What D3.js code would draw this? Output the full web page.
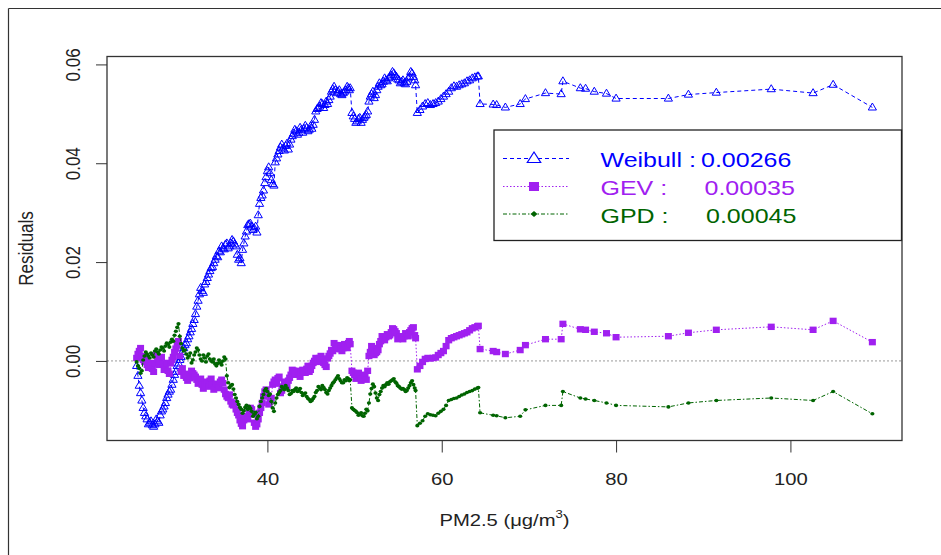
<!DOCTYPE html>
<html>
<head>
<meta charset="utf-8">
<script src="https://cdn.jsdelivr.net/npm/d3@7/dist/d3.min.js"></script>
<style>
  body { margin: 0; background: #fff; }
  svg { display: block; font-family: "Liberation Sans", Arial, sans-serif; }
</style>
</head>
<body>
<svg id="chart" width="941" height="555"></svg>
<script>
// PM2.5 values (shared by the three residual series)
const pm25 = [
  25.0, 25.3, 25.6, 25.9, 26.2, 26.5, 26.8, 27.1, 27.4, 27.7,
  28.0, 28.3, 28.6, 28.9, 29.2, 29.5, 29.8, 30.1, 30.4, 30.7,
  31.0, 31.3, 31.6, 31.9, 32.2, 32.5, 32.8, 33.1, 33.4, 33.7,
  34.0, 34.3, 34.6, 34.9, 35.2, 35.5, 35.8, 36.1, 36.4, 36.7,
  37.0, 37.3, 37.6, 37.9, 38.2, 38.5, 38.8, 39.1, 39.4, 39.7,
  40.0, 40.3, 40.6, 40.9, 41.2, 41.5, 41.8, 42.1, 42.4, 42.7,
  43.0, 43.3, 43.6, 43.9, 44.2, 44.5, 44.8, 45.1, 45.4, 45.7,
  46.0, 46.3, 46.6, 46.9, 47.2, 47.5, 47.8, 48.1, 48.4, 48.7,
  49.0, 49.3, 49.5, 49.7, 50.0, 50.3, 50.6, 50.9, 51.2, 51.5,
  51.8, 52.1, 52.4, 52.7, 53.0, 53.3, 53.6, 53.9, 54.2, 54.5,
  54.8, 55.1, 55.4, 55.7, 56.0, 56.3, 56.6, 56.9, 57.0, 57.2,
  57.5, 57.8, 58.1, 58.4, 58.7, 59.0, 59.3, 59.6, 59.9, 60.2,
  60.5, 60.8, 61.1, 61.4, 61.7, 62.0, 62.3, 62.6, 62.9, 63.2,
  63.5, 63.8, 64.1, 64.2, 64.4,
  65.9, 66.3, 67.3, 69.0, 69.6, 71.9, 73.7, 73.9, 75.9, 76.5,
  77.5, 78.9, 80.0, 86.0, 88.3, 91.5, 97.8, 102.6, 104.9, 109.4
];

const weibull = [
  -0.001, -0.005, -0.008, -0.0105, -0.0118, -0.0125, -0.013, -0.0128, -0.0122, -0.011,
  -0.0098, -0.0085, -0.0068, -0.0058, -0.0038, -0.0022, -0.0005, 0.0008, 0.0026, 0.0036,
  0.005, 0.0065, 0.0083, 0.011, 0.0135, 0.0142, 0.0155, 0.0168, 0.0182, 0.019,
  0.0205, 0.021, 0.022, 0.0228, 0.0236, 0.0228, 0.0238, 0.0242, 0.0232, 0.0205,
  0.0198, 0.0238, 0.0262, 0.0277, 0.0272, 0.0268, 0.026, 0.0318, 0.0335, 0.036,
  0.0384, 0.038, 0.0358, 0.0402, 0.0418, 0.0432, 0.043, 0.0435, 0.0428, 0.0448,
  0.046, 0.0465, 0.0462, 0.0468, 0.047, 0.0472, 0.0468, 0.047, 0.0488, 0.051,
  0.0515, 0.052, 0.0518, 0.052, 0.0535, 0.055, 0.0548, 0.0545, 0.054, 0.0542,
  0.0548, 0.0552, 0.0552, 0.0502, 0.049, 0.0485, 0.0492, 0.0488, 0.0495, 0.0505,
  0.0535, 0.0545, 0.0538, 0.0555, 0.0558, 0.0565, 0.0568, 0.0572, 0.0578, 0.0582,
  0.0575, 0.0568, 0.0565, 0.0562, 0.0565, 0.0575, 0.0582, 0.0568, 0.0558, 0.0502,
  0.0508, 0.0515, 0.052, 0.0522, 0.0518, 0.052, 0.0522, 0.0525, 0.053, 0.0535,
  0.054, 0.0545, 0.0552, 0.0556, 0.0555, 0.0558, 0.056, 0.0562, 0.0566, 0.0568,
  0.0572, 0.0574, 0.0576, 0.0576, 0.052,
  0.0519, 0.0518, 0.0513, 0.052, 0.053, 0.0542, 0.054, 0.0566, 0.0552, 0.0551,
  0.0545, 0.0541, 0.0531, 0.0531, 0.0539, 0.0543, 0.055, 0.0542, 0.0559, 0.0513
];

const gev = [
  0.0006, 0.002, 0.001, -0.0002, -0.0008, -0.0012, -0.0016, -0.0005, 0.0004, 0.0,
  -0.0006, -0.0012, -0.002, -0.0005, 0.0008, 0.0025, 0.004, -0.0022, -0.003, -0.0034,
  -0.0028, -0.002, -0.0028, -0.0038, -0.0042, -0.0048, -0.005, -0.0045, -0.004, -0.0048,
  -0.0054, -0.0048, -0.0042, -0.0045, -0.0067, -0.0075, -0.0082, -0.009, -0.0098, -0.011,
  -0.0127, -0.012, -0.0112, -0.0102, -0.0098, -0.0125, -0.0128, -0.0105, -0.0085, -0.0062,
  -0.007, -0.0082, -0.0048, -0.0038, -0.0035, -0.0065, -0.0052, -0.0045, -0.004, -0.0028,
  -0.002, -0.0025, -0.0028, -0.0024, -0.002, -0.0016, -0.0022, -0.001, 0.0, 0.0004,
  0.0006, 0.0002, -0.0008, 0.0005, 0.0015, 0.002, 0.0032, 0.0028, 0.0024, 0.0026,
  0.003, 0.0036, 0.0034, -0.002, -0.0028, -0.003, -0.0034, -0.0036, -0.0028, -0.002,
  0.0018, 0.0026, 0.0016, 0.0022, 0.004, 0.0046, 0.0048, 0.005, 0.0058, 0.0064,
  0.0056, 0.0048, 0.0046, 0.005, 0.0054, 0.0058, 0.0066, 0.0052, 0.0046, -0.0017,
  -0.001, -0.0002, 0.0004, 0.0006, 0.0005, 0.0006, 0.0007, 0.0012, 0.0016, 0.002,
  0.003, 0.0042, 0.0046, 0.0048, 0.005, 0.0052, 0.0054, 0.0056, 0.0058, 0.0062,
  0.0066, 0.0068, 0.007, 0.0071, 0.0024,
  0.002, 0.0018, 0.0014, 0.0022, 0.0032, 0.0044, 0.0044, 0.0075, 0.0064, 0.0063,
  0.0059, 0.0056, 0.0048, 0.005, 0.0057, 0.0063, 0.0069, 0.0063, 0.0081, 0.0038
];

const gpd = [
  -0.0002, -0.0015, -0.002, 0.001, 0.0014, 0.0006, 0.0012, 0.002, 0.0018, 0.0022,
  0.0026, 0.003, 0.0034, 0.0038, 0.004, 0.006, 0.0075, 0.0035, 0.002, 0.0014,
  0.001, -0.0004, 0.0012, 0.0026, 0.0012, 0.0, 0.0006, 0.001, 0.0004, -0.0002,
  -0.0006, -0.0005, -0.0004, 0.0, 0.0004, -0.0044, -0.005, -0.0057, -0.0075, -0.0088,
  -0.0098, -0.0101, -0.009, -0.0092, -0.0102, -0.0108, -0.0117, -0.0092, -0.0075, -0.006,
  -0.0062, -0.0067, -0.0095, -0.0085, -0.0068, -0.006, -0.0055, -0.005, -0.006, -0.0066,
  -0.0062, -0.0055, -0.006, -0.0064, -0.0067, -0.0072, -0.0078, -0.008, -0.0072, -0.006,
  -0.0055, -0.005, -0.0058, -0.0067, -0.0055, -0.0045, -0.0038, -0.003, -0.004, -0.0044,
  -0.004, -0.0036, -0.0038, -0.0095, -0.01, -0.0105, -0.0108, -0.0111, -0.0106, -0.0101,
  -0.0067, -0.0047, -0.0065, -0.008, -0.0062, -0.005, -0.0048, -0.0047, -0.004, -0.0036,
  -0.0045, -0.0052, -0.0057, -0.0058, -0.006, -0.005, -0.004, -0.0055, -0.006, -0.0131,
  -0.0126, -0.0121, -0.0112, -0.0107, -0.0109, -0.011, -0.0111, -0.0106, -0.0102, -0.0098,
  -0.009, -0.008, -0.0078, -0.0076, -0.0075, -0.0072, -0.0069, -0.0067, -0.0064, -0.0062,
  -0.006, -0.0057, -0.0055, -0.0054, -0.0105,
  -0.011, -0.0111, -0.0115, -0.0112, -0.0099, -0.009, -0.009, -0.0062, -0.0075, -0.0077,
  -0.008, -0.0085, -0.009, -0.0093, -0.0085, -0.008, -0.0075, -0.008, -0.0062, -0.0107
];

const pm25Dense = [
  25.15, 25.45, 25.75, 26.05, 26.35, 26.65, 26.95, 27.25, 27.55, 27.85,
  28.15, 28.45, 28.75, 29.05, 29.35, 29.65, 29.95, 30.25, 30.55, 30.85,
  31.15, 31.45, 31.75, 32.05, 32.35, 32.65, 32.95, 33.25, 33.55, 33.85,
  34.15, 34.45, 34.75, 35.05, 35.35, 35.65, 35.95, 36.25, 36.55, 36.85,
  37.15, 37.45, 37.75, 38.05, 38.35, 38.65, 38.95, 39.25, 39.55, 39.85,
  40.15, 40.45, 40.75, 41.05, 41.35, 41.65, 41.95, 42.25, 42.55, 42.85,
  43.15, 43.45, 43.75, 44.05, 44.35, 44.65, 44.95, 45.25, 45.55, 45.85,
  46.15, 46.45, 46.75, 47.05, 47.35, 47.65, 47.95, 48.25, 48.55, 48.85,
  49.15, 49.4, 49.85, 50.15, 50.45, 50.75, 51.05, 51.35, 51.65, 51.95,
  52.25, 52.55, 52.85, 53.15, 53.45, 53.75, 54.05, 54.35, 54.65, 54.95,
  55.25, 55.55, 55.85, 56.15, 56.45, 56.75
];

const weibullDense = [
  -0.003, -0.0065, -0.0095, -0.0112, -0.0128, -0.0122, -0.0133, -0.0118, -0.0125, -0.0102,
  -0.0092, -0.0075, -0.0062, -0.0048, -0.0028, -0.001, 0.0002, 0.0018, 0.0032, 0.0044,
  0.0058, 0.0075, 0.0095, 0.0122, 0.0148, 0.0138, 0.016, 0.0175, 0.0188, 0.0198,
  0.0212, 0.0222, 0.0232, 0.0226, 0.0238, 0.0232, 0.0245, 0.0236, 0.0215, 0.0208,
  0.0225, 0.0252, 0.0275, 0.0278, 0.0265, 0.0272, 0.0295, 0.033, 0.0345, 0.0372,
  0.0392, 0.0366, 0.0355, 0.041, 0.0425, 0.0438, 0.0426, 0.044, 0.0438, 0.0455,
  0.0468, 0.0458, 0.0472, 0.0462, 0.0476, 0.0465, 0.0475, 0.0478, 0.0505, 0.0512,
  0.0522, 0.0512, 0.0525, 0.0528, 0.0545, 0.0555, 0.0542, 0.0548, 0.0538, 0.0545,
  0.0555, 0.0548, 0.0495, 0.0482, 0.049, 0.0482, 0.0492, 0.0498, 0.0525, 0.054,
  0.0532, 0.0548, 0.0562, 0.056, 0.0572, 0.0566, 0.0574, 0.0585, 0.0578, 0.057,
  0.0562, 0.0568, 0.056, 0.0572, 0.0585, 0.0575
];

const gevDense = [
  0.0014, 0.0026, 0.0002, 0.0008, -0.0014, -0.0004, -0.0022, 0.0012, -0.0008, 0.0008,
  -0.0018, -0.0004, -0.0026, 0.0002, 0.0018, 0.0032, 0.001, -0.0015, -0.0026, -0.004,
  -0.0035, -0.0025, -0.0032, -0.0046, -0.0036, -0.0056, -0.0042, -0.0052, -0.0036, -0.0058,
  -0.0046, -0.0055, -0.0038, -0.0058, -0.0072, -0.0068, -0.0088, -0.0085, -0.0105, -0.012,
  -0.0132, -0.0112, -0.0118, -0.0095, -0.0108, -0.0133, -0.0118, -0.0095, -0.0072, -0.0058,
  -0.0088, -0.0075, -0.0042, -0.0046, -0.0032, -0.006, -0.0042, -0.0052, -0.0034, -0.0018,
  -0.0028, -0.002, -0.0032, -0.0018, -0.0024, -0.001, -0.0018, -0.0004, 0.0006, -0.0002,
  0.001, -0.0004, -0.0012, 0.001, 0.0022, 0.0036, 0.0024, 0.0032, 0.002, 0.0034,
  0.0026, 0.004, -0.0024, -0.0036, -0.0024, -0.004, -0.003, -0.0038, 0.001, 0.003,
  0.0012, 0.0018, 0.0034, 0.005, 0.0042, 0.0054, 0.0052, 0.0066, 0.006, 0.0044,
  0.005, 0.0044, 0.0056, 0.005, 0.0062, 0.0068
];

const gpdDense = [
  -0.001, -0.0025, 0.0002, 0.0018, 0.001, 0.0016, 0.0008, 0.0024, 0.0014, 0.0028,
  0.002, 0.0036, 0.0028, 0.0044, 0.0052, 0.0068, 0.005, 0.0026, 0.0022, 0.0006,
  0.0016, 0.0002, 0.0018, 0.0022, 0.0004, 0.0012, -0.0002, 0.0014, 0.0, 0.0004,
  -0.001, 0.0002, -0.0008, 0.0008, -0.003, -0.0054, -0.0048, -0.0068, -0.0082, -0.0094,
  -0.0106, -0.0094, -0.0098, -0.0096, -0.0112, -0.0104, -0.0112, -0.0082, -0.0068, -0.0056,
  -0.007, -0.0082, -0.0102, -0.0075, -0.0064, -0.0052, -0.0058, -0.0055, -0.0068, -0.006,
  -0.0058, -0.0062, -0.0056, -0.007, -0.0065, -0.0076, -0.0082, -0.0076, -0.0064, -0.0052,
  -0.0058, -0.0054, -0.0064, -0.006, -0.005, -0.0042, -0.0034, -0.0036, -0.0044, -0.0038,
  -0.0034, -0.004, -0.0098, -0.0102, -0.011, -0.0105, -0.0112, -0.0098, -0.0085, -0.0056,
  -0.0052, -0.0075, -0.0068, -0.0055, -0.0052, -0.0044, -0.0042, -0.0038, -0.0042, -0.005,
  -0.0055, -0.0056, -0.0062, -0.0055, -0.0044, -0.0048
];

const xDomain = [21.6, 112.8];
const yDomain = [-0.0161, 0.0616];
const xTicks = [40, 60, 80, 100];
const yTicks = [0.00, 0.02, 0.04, 0.06];
const legendNames = ["Weibull :", "GEV :", "GPD :"];
const legendValues = ["0.00266", "0.00035", "0.00045"];

// the picture is a bit stretched sideways, so text is too
const sx = 1.19;
const box = { left: 107, right: 902, top: 56.5, bottom: 440.5 };

const svg = d3.select("#chart");

const x = d3.scaleLinear().domain(xDomain).range([box.left, box.right]);
const y = d3.scaleLinear().domain(yDomain).range([box.bottom, box.top]);

// frame of the screenshot
svg.append("line").attr("x1", 8.5).attr("x2", 941).attr("y1", 8.5).attr("y2", 8.5)
  .attr("stroke", "#333").attr("stroke-width", 1.2);
svg.append("line").attr("x1", 8.5).attr("x2", 8.5).attr("y1", 8.5).attr("y2", 555)
  .attr("stroke", "#333").attr("stroke-width", 1.2);

// zero reference line
svg.append("line")
  .attr("x1", box.left).attr("x2", box.right)
  .attr("y1", y(0)).attr("y2", y(0))
  .attr("stroke", "#999").attr("stroke-dasharray", "2,2");

const series = [
  { name: "weibull", values: weibull, dense: weibullDense, color: "#0000FF", dash: "4,3", marker: "triangle" },
  { name: "gev", values: gev, dense: gevDense, color: "#A020F0", dash: "1.5,2", marker: "square" },
  { name: "gpd", values: gpd, dense: gpdDense, color: "#006400", dash: "4,2,1.5,2", marker: "dot" }
];

function drawMarker(sel, type, color) {
  if (type === "triangle") {
    sel.append("path")
      .attr("d", "M0,-4.4L4.1,2.6L-4.1,2.6Z")
      .attr("fill", "none").attr("stroke", color).attr("stroke-width", 1);
  } else if (type === "square") {
    sel.append("rect")
      .attr("x", -3.5).attr("y", -3.2).attr("width", 7).attr("height", 6.4)
      .attr("fill", color);
  } else {
    sel.append("ellipse").attr("rx", 2.1).attr("ry", 1.8).attr("fill", color);
  }
}

series.forEach(s => {
  const pts = pm25.map((v, i) => [v, s.values[i]])
    .concat(pm25Dense.map((v, i) => [v, s.dense[i]]))
    .sort((a, b) => a[0] - b[0]);
  const g = svg.append("g").attr("class", s.name);

  g.append("path")
    .datum(pts)
    .attr("fill", "none")
    .attr("stroke", s.color)
    .attr("stroke-width", 1)
    .attr("stroke-dasharray", s.dash)
    .attr("d", d3.line().x(d => x(d[0])).y(d => y(d[1])));

  g.selectAll(".pt")
    .data(pts)
    .enter()
    .append("g")
    .attr("class", "pt")
    .attr("transform", d => `translate(${x(d[0])},${y(d[1])})`)
    .each(function () { drawMarker(d3.select(this), s.marker, s.color); });
});

// plot box
svg.append("rect")
  .attr("x", box.left).attr("y", box.top)
  .attr("width", box.right - box.left).attr("height", box.bottom - box.top)
  .attr("fill", "none").attr("stroke", "#333").attr("stroke-width", 1.3);

// axes
const gx = svg.append("g")
  .attr("transform", `translate(0,${box.bottom})`)
  .call(d3.axisBottom(x).tickValues(xTicks).tickSize(12).tickFormat(d3.format("d")));
gx.select(".domain").remove();
gx.selectAll("line").attr("stroke", "#333");
gx.selectAll("text")
  .attr("y", null).attr("dy", null)
  .attr("transform", `translate(0,44.5) scale(${sx},1)`)
  .attr("font-size", 17).attr("font-family", "Liberation Sans, Arial, sans-serif")
  .attr("fill", "#222");

const gy = svg.append("g")
  .attr("transform", `translate(${box.left},0)`)
  .call(d3.axisLeft(y).tickValues(yTicks).tickSize(11).tickFormat(d3.format(".2f")));
gy.select(".domain").remove();
gy.selectAll("line").attr("stroke", "#333");
gy.selectAll("text")
  .attr("x", null).attr("dy", null)
  .attr("text-anchor", "middle")
  .attr("transform", `translate(-27,0) scale(${sx},1) rotate(-90)`)
  .attr("font-size", 17).attr("font-family", "Liberation Sans, Arial, sans-serif")
  .attr("fill", "#222");

// axis titles
const xLab = svg.append("text")
  .attr("transform", `translate(${(box.left + box.right) / 2},526) scale(${sx},1)`)
  .attr("text-anchor", "middle")
  .attr("font-size", 17)
  .attr("fill", "#222");
xLab.append("tspan").text("PM2.5 (μg/m");
xLab.append("tspan").attr("dy", -8).attr("font-size", 11).text("3");
xLab.append("tspan").attr("dy", 8).text(")");

svg.append("text")
  .attr("transform", `translate(33,${(box.top + box.bottom) / 2}) scale(${sx},1) rotate(-90)`)
  .attr("text-anchor", "middle")
  .attr("font-size", 17)
  .attr("fill", "#222")
  .text("Residuals");

// legend
const legend = svg.append("g");
legend.append("rect")
  .attr("x", 494).attr("y", 130).attr("width", 407.5).attr("height", 110.5)
  .attr("fill", "#fff").attr("stroke", "#222").attr("stroke-width", 1.3);

const rowY = [158.5, 186.5, 214];
const valueX = [701, 704.5, 706];
series.forEach((s, i) => {
  const row = legend.append("g");
  row.append("line")
    .attr("x1", 503).attr("x2", 569).attr("y1", rowY[i]).attr("y2", rowY[i])
    .attr("stroke", s.color).attr("stroke-dasharray", s.dash);
  const m = row.append("g").attr("transform", `translate(534,${rowY[i]})`);
  if (s.marker === "triangle") {
    m.append("path").attr("d", "M0,-6.5L6.7,4L-6.7,4Z")
      .attr("fill", "#fff").attr("stroke", s.color).attr("stroke-width", 1.2);
  } else if (s.marker === "square") {
    m.append("rect").attr("x", -5).attr("y", -4.5).attr("width", 10).attr("height", 9).attr("fill", s.color);
  } else {
    m.append("path").attr("d", "M0,-3L3.5,0L0,3L-3.5,0Z").attr("fill", s.color);
  }
  row.append("text")
    .attr("transform", `translate(600.5,${rowY[i] + 8.8}) scale(${sx},1)`)
    .attr("font-size", 21).attr("fill", s.color)
    .text(legendNames[i]);
  row.append("text")
    .attr("transform", `translate(${valueX[i]},${rowY[i] + 8.8}) scale(${sx},1)`)
    .attr("font-size", 21).attr("fill", s.color)
    .text(legendValues[i]);
});
</script>
</body>
</html>
